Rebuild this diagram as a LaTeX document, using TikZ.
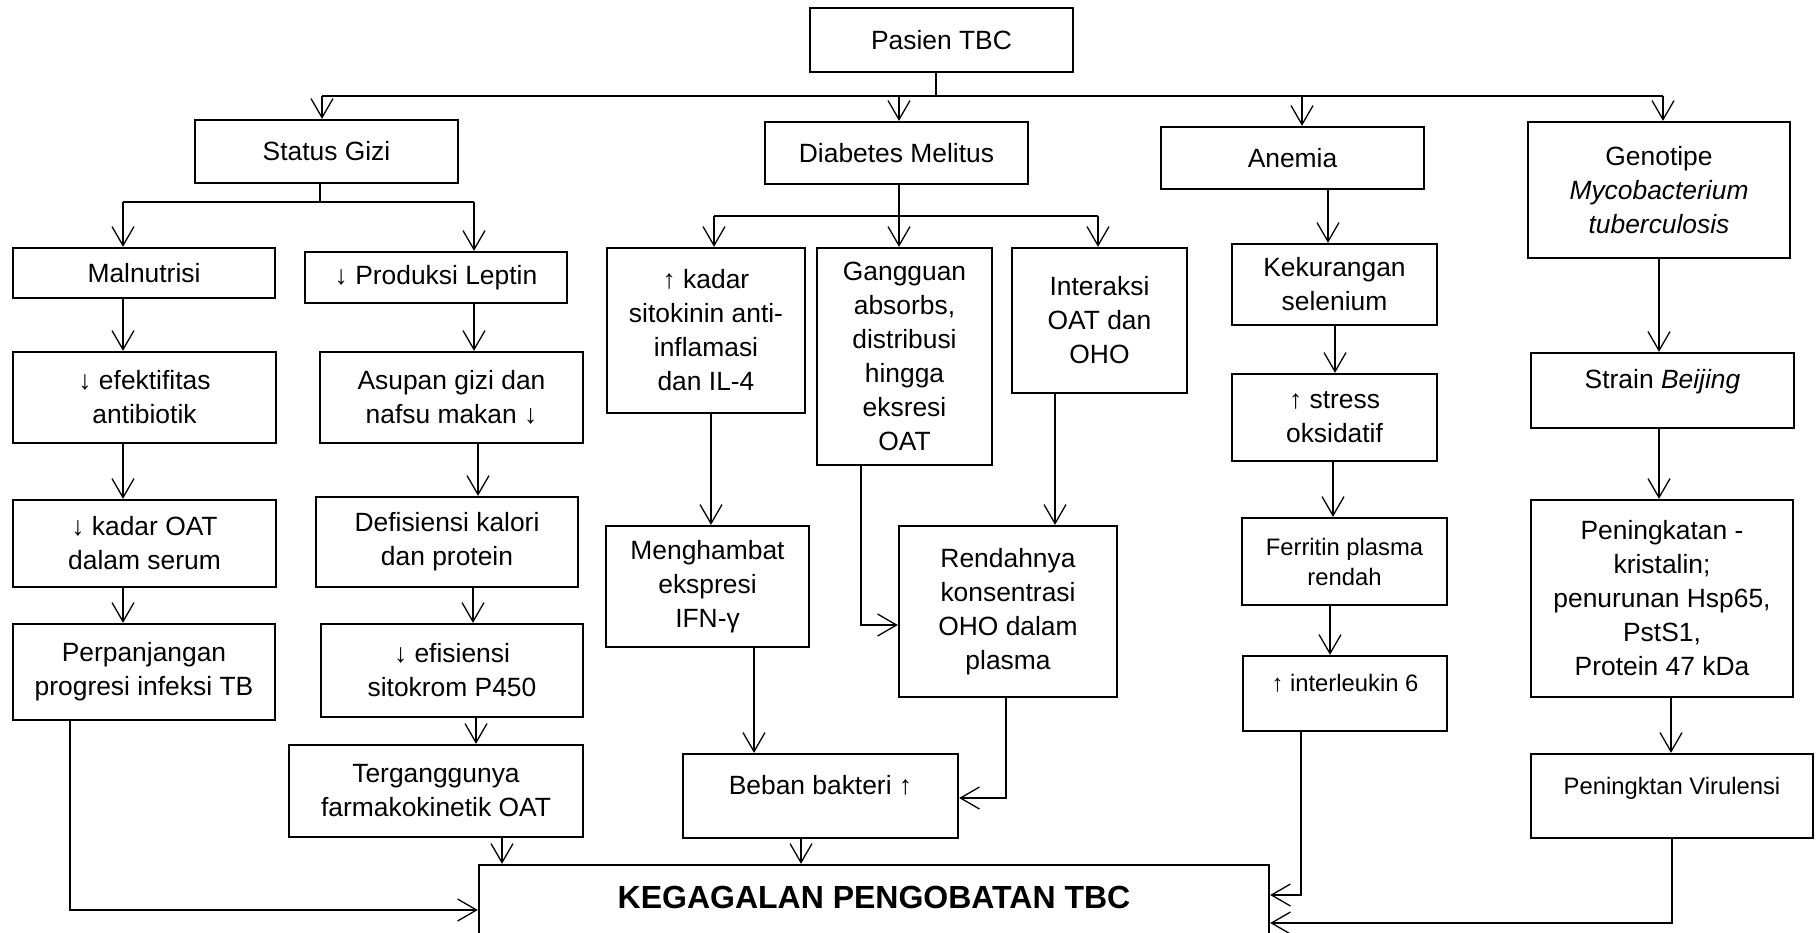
\documentclass[tikz,border=0pt]{standalone}
\usepackage{fontspec}
\setmainfont{Liberation Sans}
\usetikzlibrary{arrows.meta}
\begin{document}
\begin{tikzpicture}[x=0.5pt,y=-0.5pt,
  box/.style={draw, line width=1.15pt, inner sep=0pt, align=center, font=\fontsize{13.2}{17}\selectfont},
  sbox/.style={box, font=\fontsize{11.9}{15}\selectfont},
  wh/.style 2 args={minimum width=#1*0.5pt, minimum height=#2*0.5pt},
  lift/.style={text height=10pt, text depth=12pt},
  line/.style={line width=0.65pt},
  arr/.style={line, -{Straight Barb[length=9.5pt,width=11pt]}},
]
\useasboundingbox (0,0) rectangle (1820,932);
\clip (0,0) rectangle (1820,932);

% boxes
\node[box, wh={263}{64}] (pasien) at (941.5,40) {Pasien TBC};
\node[box, wh={263}{63}] (sg) at (326.5,151.5) {Status Gizi};
\node[box, wh={263}{62}] (dm) at (896.5,153) {Diabetes Melitus};
\node[box, wh={263}{62}] (anemia) at (1292.5,158) {Anemia};
\node[box, wh={262}{136}] (geno) at (1659,190) {Genotipe\\\textit{Mycobacterium}\\\textit{tuberculosis}};
\node[box, wh={262}{50}] (maln) at (144,273) {Malnutrisi};
\node[box, wh={262}{51}] (leptin) at (436,277.5) {↓ Produksi Leptin};
\node[box, wh={198}{165}] (kadar) at (706,330.5) {↑ kadar\\sitokinin anti-\\inflamasi\\dan IL-4};
\node[box, wh={175}{217}] (gang) at (904.5,356.5) {Gangguan\\absorbs,\\distribusi\\hingga\\eksresi\\OAT};
\node[box, wh={175}{145}] (inter) at (1099.5,320.5) {Interaksi\\OAT dan\\OHO};
\node[box, wh={205}{81}] (kek) at (1334.5,284.5) {Kekurangan\\selenium};
\node[box, wh={263}{75}, lift] (strain) at (1662.5,390.5) {Strain \textit{Beijing}};
\node[box, wh={263}{91}] (efek) at (144.5,397.5) {↓ efektifitas\\antibiotik};
\node[box, wh={263}{91}] (asupan) at (451.5,397.5) {Asupan gizi dan\\nafsu makan ↓};
\node[box, wh={205}{87}] (stress) at (1334.5,417.5) {↑ stress\\oksidatif};
\node[box, wh={263}{87}] (kadaroat) at (144.5,543.5) {↓ kadar OAT\\dalam serum};
\node[box, wh={262}{90}] (defis) at (447,542) {Defisiensi kalori\\dan protein};
\node[sbox, wh={205}{87}] (ferritin) at (1344.5,561.5) {Ferritin plasma\\rendah};
\node[box, wh={262}{197}] (pening) at (1662,598.5) {Peningkatan -\\kristalin;\\penurunan Hsp65,\\PstS1,\\Protein 47 kDa};
\node[box, wh={203}{121}] (mengh) at (707.5,586.5) {Menghambat\\ekspresi\\IFN-γ};
\node[box, wh={218}{171}] (rendah) at (1008,611.5) {Rendahnya\\konsentrasi\\OHO dalam\\plasma};
\node[box, wh={262}{96}] (perp) at (144,672) {Perpanjangan\\progresi infeksi TB};
\node[box, wh={262}{93}] (efis) at (452,670.5) {↓ efisiensi\\sitokrom P450};
\node[sbox, wh={204}{75}, lift] (il6) at (1345,693.5) {↑ interleukin 6};
\node[box, wh={294}{92}] (terg) at (436,791) {Terganggunya\\farmakokinetik OAT};
\node[box, wh={275}{84}, lift] (beban) at (820.5,796) {Beban bakteri ↑};
\node[sbox, wh={282}{84}, lift] (vir) at (1672,796) {Peningktan Virulensi};
\node[box, wh={790}{90}, font=\fontsize{16}{19}\selectfont\bfseries, text height=12pt, text depth=13.6pt] (keg) at (874,910) {KEGAGALAN PENGOBATAN TBC};

% top bus
\coordinate (j0) at (936,96);
\coordinate (j1) at (322,96);
\coordinate (j2) at (899,96);
\coordinate (j3) at (1302,96);
\coordinate (j4) at (1663,96);
\draw[line] (pasien.south -| j0) -- (j0);
\draw[line] (j1) -- (j4);
\foreach \j/\n in {j1/sg, j2/dm, j3/anemia, j4/geno}
  \draw[arr] (\j) -- (\j |- \n.north);

% status gizi split
\coordinate (s0) at (320,202);
\coordinate (s1) at (123,202);
\coordinate (s2) at (474,202);
\draw[line] (sg.south -| s0) -- (s0);
\draw[line] (s1) -- (s2);
\draw[arr] (s1) -- (s1 |- maln.north);
\draw[arr] (s2) -- (s2 |- leptin.north);

% diabetes split
\coordinate (d1) at (714,216);
\coordinate (d2) at (899,216);
\coordinate (d3) at (1098,216);
\draw[arr] (dm.south -| d2) -- (d2 |- gang.north);
\draw[line] (d1) -- (d3);
\draw[arr] (d1) -- (d1 |- kadar.north);
\draw[arr] (d3) -- (d3 |- inter.north);

% straight vertical arrows
\foreach \a/\b/\x in {maln/efek/123, efek/kadaroat/123, kadaroat/perp/123,
  leptin/asupan/474, asupan/defis/478, defis/efis/473, efis/terg/476, terg/keg/502,
  kadar/mengh/711, mengh/beban/754, inter/rendah/1055, beban/keg/801,
  anemia/kek/1328, kek/stress/1335, stress/ferritin/1333, ferritin/il6/1330,
  geno/strain/1659, strain/pening/1659, pening/vir/1671}
{
  \coordinate (col) at (\x,0);
  \draw[arr] (\a.south -| col) -- (\b.north -| col);
}

% elbow connectors
\coordinate (g1) at (861,625);
\draw[arr] (gang.south -| g1) |- (rendah.west |- g1);
\coordinate (r1) at (1006,798);
\draw[arr] (rendah.south -| r1) |- (beban.east |- r1);
\coordinate (p1) at (70,910);
\draw[arr] (perp.south -| p1) |- (keg.west |- p1);
\coordinate (i1) at (1301,895);
\draw[arr] (il6.south -| i1) |- (keg.east |- i1);
\coordinate (v1) at (1672,923);
\draw[arr] (vir.south -| v1) |- (keg.east |- v1);
\end{tikzpicture}
\end{document}
